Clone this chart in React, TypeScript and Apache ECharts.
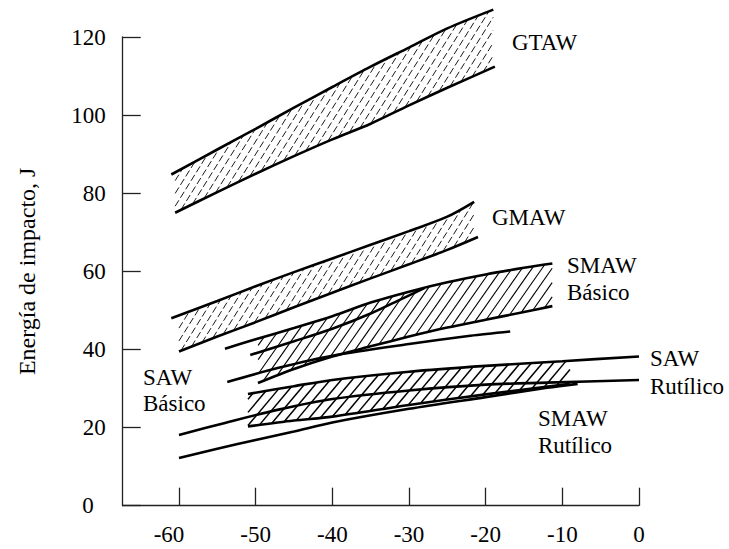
import React, { useEffect, useRef } from "react";
import * as echarts from "echarts";

// ---- data (temperature °C, impact energy J) ----
const xTicks = [-60, -50, -40, -30, -20, -10, 0];

const gtawUpper = [[-61, 84.8], [-55, 91.2], [-50, 96.5], [-45, 101.9], [-40, 107.2], [-35, 112.4], [-30, 117.3], [-25, 122.2], [-19, 127]];
const gtawLower = [[-60.5, 75], [-55, 80.3], [-50, 85], [-45, 89.5], [-40, 93.8], [-35, 97.8], [-30, 102.5], [-25, 107], [-18.8, 112.4]];

const gmawUpper = [[-61, 48], [-55, 52.4], [-50, 56.2], [-45, 59.8], [-40, 63.3], [-35, 66.8], [-30, 70.3], [-25, 74], [-21.5, 77.8]];
const gmawLower = [[-60, 39.5], [-55, 43.3], [-50, 47], [-45, 50.8], [-40, 54.5], [-35, 58.2], [-30, 61.8], [-25, 65.5], [-21, 68.8]];

const smawBasUpper = [[-54, 40.2], [-50, 42.6], [-45, 45.5], [-40, 48.5], [-35, 52], [-30, 54.8], [-25, 57.2], [-20, 59.2], [-15, 60.9], [-11.3, 62]];
const smawBasUpper2 = [[-50.7, 38.6], [-45, 42.1], [-40, 45.3], [-35, 49.2], [-31, 52.9], [-28, 55.7]];
const smawBasLower = [[-49.7, 31.4], [-45, 35], [-40, 38.2], [-35, 40.8], [-30, 43.3], [-25, 45.6], [-20, 47.6], [-15, 49.6], [-11.3, 51.1]];

const sawBasUpper = [[-53.7, 31.7], [-47, 35.3], [-40, 38.4], [-30, 41.4], [-22, 43.5], [-16.8, 44.6]];

const sawRutUpper = [[-51, 28.6], [-45, 30.6], [-40, 32.2], [-30, 34.3], [-20, 35.8], [-10, 37], [0, 38.2]];
const sawRutLower = [[-60, 18.1], [-54, 21.2], [-47, 24.6], [-40, 27.3], [-30, 29.5], [-20, 31], [-12, 31.5], [0, 32.2]];

const smawRutLower = [[-51, 20.3], [-45, 21.8], [-40, 22.8], [-30, 25.8], [-20, 28.5], [-9, 31.2]];
const bottomLine = [[-60, 12.2], [-55, 14.6], [-50, 16.8], [-45, 19], [-40, 21.3], [-30, 24.8], [-20, 27.8], [-12, 30.2], [-8, 31.2]];

const FONT = '"Liberation Serif", "Times New Roman", serif';

function interp(poly: number[][], x: number): number | null {
  if (x < poly[0][0] || x > poly[poly.length - 1][0]) return null;
  for (let i = 0; i < poly.length - 1; i++) {
    const [x0, y0] = poly[i];
    const [x1, y1] = poly[i + 1];
    if (x >= x0 && x <= x1) {
      const t = x1 === x0 ? 0 : (x - x0) / (x1 - x0);
      return y0 + t * (y1 - y0);
    }
  }
  return null;
}

function hatchSegments(up: number[][], lo: number[][], xa: number, xb: number, spacing: number, angleDeg: number) {
  const k = Math.tan((angleDeg * Math.PI) / 180);
  let cmin = Infinity;
  let cmax = -Infinity;
  for (let x = xa; x <= xb; x += 1) {
    const yu = interp(up, x);
    const yl = interp(lo, x);
    if (yu == null || yl == null) continue;
    cmin = Math.min(cmin, yu + k * x);
    cmax = Math.max(cmax, yl + k * x);
  }
  const segs: number[][][] = [];
  const dc = spacing * k;
  for (let c = Math.ceil(cmin / dc) * dc; c <= cmax; c += dc) {
    let start: number[] | null = null;
    let end: number[] | null = null;
    for (let x = xa; x <= xb; x += 0.5) {
      const y = c - k * x;
      const yu = interp(up, x);
      const yl = interp(lo, x);
      if (yu == null || yl == null) continue;
      const inside = y >= yu && y <= yl;
      if (inside) {
        if (!start) start = [x, y];
        end = [x, y];
      } else if (start) break;
    }
    if (start && end && end[0] - start[0] > 1) segs.push([start, end]);
  }
  return segs;
}

function hatchSeries(upper: number[][], lower: number[][], x0: number, x1: number, spacing: number, angle: number, width: number, dash: number[] | null) {
  return {
    type: "custom",
    coordinateSystem: "cartesian2d",
    silent: true,
    clip: false,
    data: [[x0, lower[0][1]]],
    encode: { x: 0, y: 1 },
    renderItem: (_params: any, api: any) => {
      const up = upper.map((p) => api.coord(p));
      const lo = lower.map((p) => api.coord(p));
      const xa = api.coord([x0, 0])[0];
      const xb = api.coord([x1, 0])[0];
      const segs = hatchSegments(up, lo, xa, xb, spacing, angle);
      return {
        type: "group",
        children: segs.map((s) => ({
          type: "line",
          shape: { x1: s[0][0], y1: s[0][1], x2: s[1][0], y2: s[1][1] },
          style: { stroke: "#000", lineWidth: width, lineDash: dash || undefined, fill: null },
        })),
      };
    },
  };
}

function lineSeries(data: number[][]) {
  return {
    type: "line",
    data,
    showSymbol: false,
    smooth: 0.3,
    clip: false,
    silent: true,
    lineStyle: { color: "#000", width: 2.6 },
  };
}

function label(text: string, x: number, y: number) {
  return {
    type: "text",
    x,
    y,
    silent: true,
    style: {
      text,
      font: `23px ${FONT}`,
      fill: "#000",
      textAlign: "left",
      textVerticalAlign: "middle",
      align: "left",
      verticalAlign: "middle",
    },
  };
}

const richSerif = {
  t: { fontFamily: FONT, fontSize: 23, color: "#000" },
  l: { fontFamily: FONT, fontSize: 23, color: "#000", padding: [0, 20, 0, 0] },
  z: { fontFamily: FONT, fontSize: 23, color: "#000", padding: [0, 12, 0, 0] },
  n: { fontFamily: FONT, fontSize: 24, color: "#000" },
};

export default function App() {
  const ref = useRef<HTMLDivElement>(null);
  useEffect(() => {
    if (!ref.current) return;
    const chart = echarts.init(ref.current, null, { renderer: "svg" });
    const axisColor = "#222";
    chart.setOption({
      animation: false,
      backgroundColor: "#fff",
      textStyle: { fontFamily: FONT },
      grid: { left: 122.7, right: 90, top: 37, bottom: 43.3, containLabel: false, outerBoundsMode: "none" },
      xAxis: {
        type: "value",
        min: -67.34,
        max: 0,
        splitLine: { show: false },
        axisLine: { show: true, onZero: false, lineStyle: { color: axisColor, width: 1.3 } },
        axisTick: { show: true, inside: true, length: 18, customValues: xTicks, lineStyle: { color: axisColor, width: 1.3 } },
        axisLabel: {
          customValues: xTicks,
          margin: 17,
          fontFamily: FONT,
          fontSize: 23,
          color: "#000",
          formatter: (v: number) => (v === xTicks[0] ? `{l|${v}}` : `{t|${v}}`),
          rich: richSerif,
        },
      },
      yAxis: {
        type: "value",
        min: 0,
        max: 120,
        interval: 20,
        splitLine: { show: false },
        axisLine: { show: true, onZero: false, lineStyle: { color: axisColor, width: 1.3 } },
        axisTick: { show: true, inside: true, length: 18, lineStyle: { color: axisColor, width: 1.3 } },
        axisLabel: {
          margin: 17,
          fontFamily: FONT,
          fontSize: 23,
          color: "#000",
          formatter: (v: number) => (v === 0 ? `{z|${v}}` : `{t|${v}}`),
          rich: richSerif,
        },
        name: "{n|Energía de impacto, J}",
        nameLocation: "middle",
        nameGap: 84,
        nameTextStyle: { fontFamily: FONT, fontSize: 24, color: "#000", rich: richSerif },
      },
      series: [
        hatchSeries(gtawUpper, gtawLower, -60.5, -19, 8, 58, 0.9, [7, 3]),
        hatchSeries(gmawUpper, gmawLower, -60, -21.5, 8, 58, 0.9, [7, 3]),
        hatchSeries(smawBasUpper, smawBasLower, -50, -11.3, 10, 55, 1.1, null),
        hatchSeries(sawRutUpper, smawRutLower, -51, -9, 11, 50, 1.5, null),
        lineSeries(gtawUpper),
        lineSeries(gtawLower),
        lineSeries(gmawUpper),
        lineSeries(gmawLower),
        lineSeries(smawBasUpper),
        lineSeries(smawBasUpper2),
        lineSeries(smawBasLower),
        lineSeries(sawBasUpper),
        lineSeries(sawRutUpper),
        lineSeries(sawRutLower),
        lineSeries(smawRutLower),
        lineSeries(bottomLine),
      ],
      graphic: [
        label("GTAW", 512, 42),
        label("GMAW", 492, 217),
        label("SMAW", 567, 265),
        label("Básico", 567, 292),
        label("SAW", 650, 358),
        label("Rutílico", 650, 386),
        label("SMAW", 538, 418),
        label("Rutílico", 538, 445),
        label("SAW", 143, 377),
        label("Básico", 143, 403),
      ],
    });
    return () => chart.dispose();
  }, []);
  return (
    <div
      ref={ref}
      style={{ position: "fixed", left: 0, top: 0, width: 729, height: 549, background: "#fff" }}
    />
  );
}
